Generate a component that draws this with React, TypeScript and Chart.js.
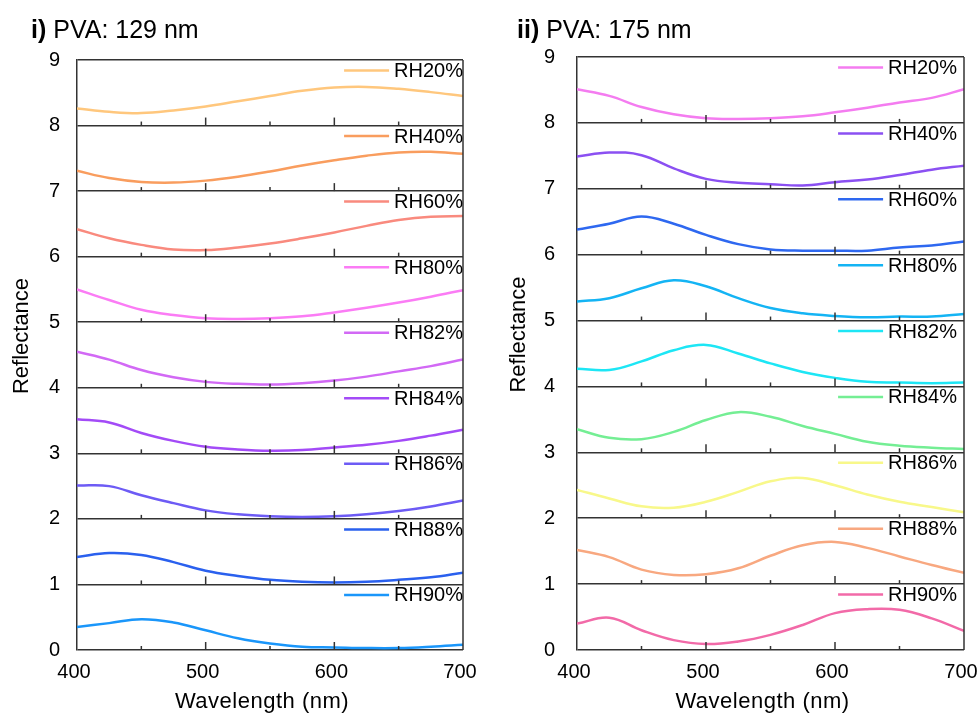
import React, { useEffect, useRef } from 'react';
import { Chart, registerables } from 'chart.js';
Chart.register(...registerables);

// ---------- data ----------
const wavelengths = [400, 425, 450, 475, 500, 525, 550, 575, 600, 625, 650, 675, 700];
const seriesLabels = ['RH20%', 'RH40%', 'RH60%', 'RH80%', 'RH82%', 'RH84%', 'RH86%', 'RH88%', 'RH90%'];
const yTickValues = [0, 1, 2, 3, 4, 5, 6, 7, 8, 9];
const xLabelTicks = [400, 500, 600, 700];
const xMajorTicks = [500, 600];
const xMinorTicks = [450, 550, 650];

// Panel i) PVA 129 nm (stacked, offsets included)
const p129RH20 = [8.26, 8.21, 8.19, 8.23, 8.29, 8.37, 8.45, 8.53, 8.58, 8.59, 8.56, 8.51, 8.45];
const p129RH40 = [7.31, 7.20, 7.14, 7.13, 7.16, 7.22, 7.30, 7.39, 7.47, 7.54, 7.59, 7.60, 7.57];
const p129RH60 = [6.42, 6.28, 6.18, 6.11, 6.10, 6.14, 6.20, 6.28, 6.37, 6.47, 6.56, 6.61, 6.62];
const p129RH80 = [5.50, 5.34, 5.19, 5.11, 5.06, 5.05, 5.06, 5.09, 5.15, 5.22, 5.30, 5.39, 5.49];
const p129RH82 = [4.55, 4.43, 4.27, 4.16, 4.09, 4.06, 4.05, 4.07, 4.11, 4.17, 4.25, 4.33, 4.43];
const p129RH84 = [3.52, 3.47, 3.31, 3.19, 3.10, 3.06, 3.04, 3.05, 3.09, 3.13, 3.19, 3.27, 3.36];
const p129RH86 = [2.51, 2.50, 2.36, 2.24, 2.13, 2.07, 2.04, 2.03, 2.04, 2.07, 2.12, 2.19, 2.28];
const p129RH88 = [1.42, 1.48, 1.45, 1.34, 1.21, 1.13, 1.07, 1.04, 1.03, 1.04, 1.07, 1.11, 1.18];
const p129RH90 = [0.35, 0.41, 0.47, 0.42, 0.30, 0.18, 0.10, 0.05, 0.04, 0.03, 0.03, 0.05, 0.08];

// Panel ii) PVA 175 nm
const p175RH20 = [8.51, 8.41, 8.24, 8.13, 8.07, 8.06, 8.07, 8.10, 8.16, 8.23, 8.31, 8.38, 8.51];
const p175RH40 = [7.49, 7.55, 7.51, 7.31, 7.15, 7.09, 7.07, 7.05, 7.10, 7.14, 7.21, 7.29, 7.35];
const p175RH60 = [6.38, 6.47, 6.58, 6.47, 6.30, 6.16, 6.08, 6.06, 6.06, 6.06, 6.11, 6.14, 6.20];
const p175RH80 = [5.29, 5.34, 5.49, 5.61, 5.52, 5.34, 5.19, 5.11, 5.07, 5.05, 5.06, 5.06, 5.10];
const p175RH82 = [4.27, 4.25, 4.38, 4.55, 4.63, 4.50, 4.35, 4.22, 4.13, 4.07, 4.06, 4.05, 4.06];
const p175RH84 = [3.35, 3.22, 3.20, 3.31, 3.49, 3.61, 3.54, 3.40, 3.28, 3.16, 3.10, 3.07, 3.05];
const p175RH86 = [2.43, 2.30, 2.18, 2.16, 2.25, 2.40, 2.56, 2.61, 2.50, 2.36, 2.25, 2.17, 2.09];
const p175RH88 = [1.52, 1.41, 1.22, 1.14, 1.15, 1.24, 1.43, 1.59, 1.64, 1.55, 1.42, 1.29, 1.17];
const p175RH90 = [0.40, 0.49, 0.30, 0.15, 0.09, 0.13, 0.23, 0.38, 0.56, 0.62, 0.61, 0.48, 0.29];

const colors129 = ['#FFC77D', '#F99D5E', '#F98A7E', '#FB7CF5', '#D269F5', '#A34BF7', '#6D5BF5', '#2A60EE', '#1A96FA'];
const colors175 = ['#F47CF0', '#8B50F2', '#2E68F0', '#14B4F4', '#1DE6F5', '#74EE94', '#F8F88A', '#F8A880', '#F26AA8'];

const FONT = "'Liberation Sans', Arial, sans-serif";
const FRAME = '#333333';

type PanelLayout = {
  left: number;
  width: number;
  yAxisWidth: number;
  padRight: number;
  padTop: number;
  yTickPad: number;
  yTitleX: number;
  legendInset: number;
};

const framePlugin = {
  id: 'stripFrame',
  afterDatasetsDraw(chart: any) {
    const { ctx, chartArea, scales } = chart;
    const xs = scales.x;
    const ys = scales.y;
    ctx.save();
    ctx.strokeStyle = FRAME;
    ctx.lineWidth = 1.5;
    ctx.beginPath();
    ctx.moveTo(chartArea.right, chartArea.top);
    ctx.lineTo(chartArea.right, chartArea.bottom);
    ctx.stroke();
    for (let k = 0; k < 9; k++) {
      const py = ys.getPixelForValue(k);
      xMajorTicks.forEach((v) => {
        const px = xs.getPixelForValue(v);
        ctx.beginPath();
        ctx.moveTo(px, py);
        ctx.lineTo(px, py - 8);
        ctx.stroke();
      });
      xMinorTicks.forEach((v) => {
        const px = xs.getPixelForValue(v);
        ctx.beginPath();
        ctx.moveTo(px, py);
        ctx.lineTo(px, py - 4);
        ctx.stroke();
      });
    }
    ctx.restore();
  },
};

function makeOverlayPlugin(L: PanelLayout) {
  return {
    id: 'stripLegend',
    afterDraw(chart: any) {
      const { ctx, chartArea, scales } = chart;
      const ys = scales.y;
      ctx.save();
      ctx.font = `20px ${FONT}`;
      ctx.textBaseline = 'middle';
      ctx.textAlign = 'left';
      chart.data.datasets.forEach((ds: any, i: number) => {
        const yTop = ys.getPixelForValue(9 - i);
        const ly = yTop + 10.5;
        const tw = ctx.measureText(ds.label).width;
        const textX = chartArea.right - L.legendInset - tw;
        ctx.strokeStyle = ds.borderColor;
        ctx.lineWidth = 2.5;
        ctx.beginPath();
        ctx.moveTo(textX - 50, ly);
        ctx.lineTo(textX - 5, ly);
        ctx.stroke();
        ctx.fillStyle = '#000';
        ctx.fillText(ds.label, textX, ly + 1);
      });
      // x axis title
      ctx.textAlign = 'center';
      ctx.font = `22px ${FONT}`;
      try {
        (ctx as any).letterSpacing = '0.5px';
      } catch (e) {}
      ctx.fillText('Wavelength (nm)', (chartArea.left + chartArea.right) / 2 - 8, chartArea.bottom + 52);
      try {
        (ctx as any).letterSpacing = '0px';
      } catch (e) {}
      // y axis title
      ctx.translate(L.yTitleX, (chartArea.top + chartArea.bottom) / 2 - 19);
      ctx.rotate(-Math.PI / 2);
      ctx.fillText('Reflectance', 0, 0);
      ctx.restore();
    },
  };
}

function Panel({ series, colors, L }: { series: number[][]; colors: string[]; L: PanelLayout }) {
  const ref = useRef<HTMLCanvasElement>(null);
  useEffect(() => {
    const chart = new Chart(ref.current as HTMLCanvasElement, {
      type: 'line',
      data: {
        datasets: series.map((s, i) => ({
          label: seriesLabels[i],
          data: wavelengths.map((w, j) => ({ x: w, y: s[j] })),
          borderColor: colors[i],
          backgroundColor: colors[i],
          borderWidth: 2.5,
          pointRadius: 0,
          tension: 0.4,
          fill: false,
        })),
      },
      options: {
        animation: false,
        responsive: false,
        layout: { padding: { left: 0, right: L.padRight, top: L.padTop, bottom: 0 } },
        plugins: { legend: { display: false }, tooltip: { enabled: false } },
        scales: {
          x: {
            type: 'linear',
            min: 400,
            max: 700,
            afterBuildTicks: (s: any) => {
              s.ticks = xLabelTicks.map((v) => ({ value: v }));
            },
            grid: { display: false, drawTicks: false },
            border: { display: false },
            ticks: {
              padding: 10,
              labelOffset: -3,
              font: { family: FONT, size: 20 },
              color: '#000',
              maxRotation: 0,
              autoSkip: false,
            },
            title: { display: false },
            afterFit: (s: any) => {
              s.height = 65;
              s.paddingLeft = 0;
              s.paddingRight = 0;
            },
          },
          y: {
            type: 'linear',
            min: 0,
            max: 9,
            afterBuildTicks: (s: any) => {
              s.ticks = yTickValues.map((v) => ({ value: v }));
            },
            grid: { color: FRAME, lineWidth: 1.5, drawTicks: false },
            border: { display: true, color: FRAME, width: 1.5 },
            ticks: { padding: L.yTickPad, font: { family: FONT, size: 20 }, color: '#000' },
            afterFit: (s: any) => {
              s.width = L.yAxisWidth;
            },
          },
        },
      } as any,
      plugins: [framePlugin, makeOverlayPlugin(L)],
    });
    return () => chart.destroy();
  }, []);
  return (
    <canvas
      ref={ref}
      width={L.width}
      height={715}
      style={{ position: 'absolute', left: L.left, top: 0, width: L.width, height: 715 }}
    />
  );
}

const layout129: PanelLayout = {
  left: 0, width: 489, yAxisWidth: 77, padRight: 26, padTop: 60, yTickPad: 17, yTitleX: 22, legendInset: 0,
};
const layout175: PanelLayout = {
  left: 489, width: 490, yAxisWidth: 88, padRight: 15, padTop: 57, yTickPad: 22, yTitleX: 30, legendInset: 7,
};

export default function App() {
  const titleStyle: React.CSSProperties = {
    position: 'absolute',
    top: 17,
    fontFamily: FONT,
    fontSize: 25,
    lineHeight: '25px',
    color: '#000',
    whiteSpace: 'nowrap',
  };
  return (
    <div style={{ position: 'absolute', left: 0, top: 0, width: 979, height: 715, background: '#fff', overflow: 'hidden' }}>
      <Panel
        series={[p129RH20, p129RH40, p129RH60, p129RH80, p129RH82, p129RH84, p129RH86, p129RH88, p129RH90]}
        colors={colors129}
        L={layout129}
      />
      <Panel
        series={[p175RH20, p175RH40, p175RH60, p175RH80, p175RH82, p175RH84, p175RH86, p175RH88, p175RH90]}
        colors={colors175}
        L={layout175}
      />
      <div style={{ ...titleStyle, left: 31 }}>
        <b>i)</b> PVA: 129 nm
      </div>
      <div style={{ ...titleStyle, left: 517 }}>
        <b>ii)</b> PVA: 175 nm
      </div>
    </div>
  );
}
